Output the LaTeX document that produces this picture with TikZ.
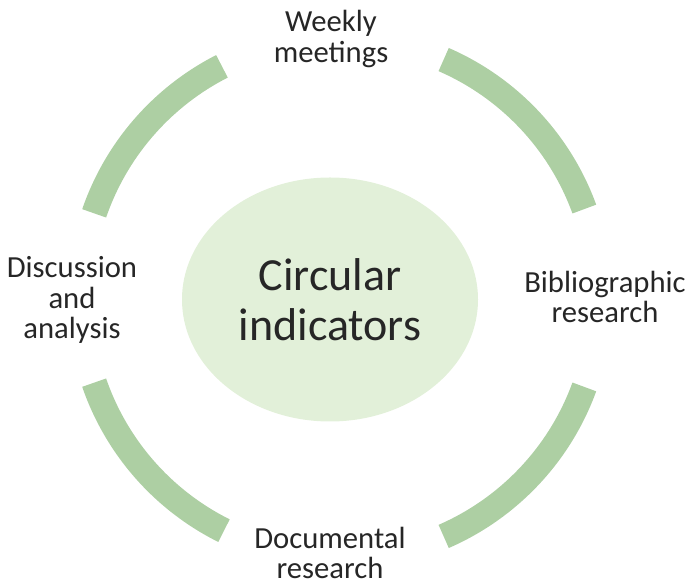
\documentclass[tikz,border=0pt]{standalone}
\usepackage{fontspec}
\setmainfont{Carlito}
\usepackage{tikz}
\usepackage{xcolor}
\usetikzlibrary{positioning}
\definecolor{ringgreen}{RGB}{173,207,163}
\definecolor{corefill}{RGB}{226,240,217}
\definecolor{labelink}{RGB}{38,38,38}

\begin{document}
\begin{tikzpicture}[x=0.75pt,y=0.75pt,
  steplabel/.style={text=labelink,align=center,font=\fontsize{23}{23}\selectfont,inner sep=0pt},
  ringarc/.style={ringgreen,line width=19pt}]

%% ── canvas ───────────────────────────────────────────────────────────────────
\useasboundingbox (0,0) rectangle (689,585);

%% ── centre ellipse ───────────────────────────────────────────────────────────
\fill[corefill] (330,285.5) ellipse (148 and 122);
\node[text=labelink,align=center,font=\fontsize{34.5}{37.5}\selectfont] (core)
  at (330,285) {Circular\\indicators};

%% ── ring segments (radius 260, centre 340,287) ───────────────────────────────
\coordinate (ring) at (340,287);
\foreach \a/\b in {20/66.5, 117/161, 199/243.5, 293.5/340}{%
  \draw[ringarc] ([shift={(\a:260)}]ring) arc[start angle=\a,end angle=\b,radius=260];
}

%% ── step labels ──────────────────────────────────────────────────────────────
\node[steplabel] (weekly)  at (331,546) {Weekly\\meetings};
\node[steplabel] (biblio)  at (605,288) {Bibliographic\\research};
\node[steplabel] (docum)   at (330,32)  {Documental\\research};
\node[steplabel] (discuss) at (72,285)  {Discussion\\and\\analysis};

\end{tikzpicture}
\end{document}
